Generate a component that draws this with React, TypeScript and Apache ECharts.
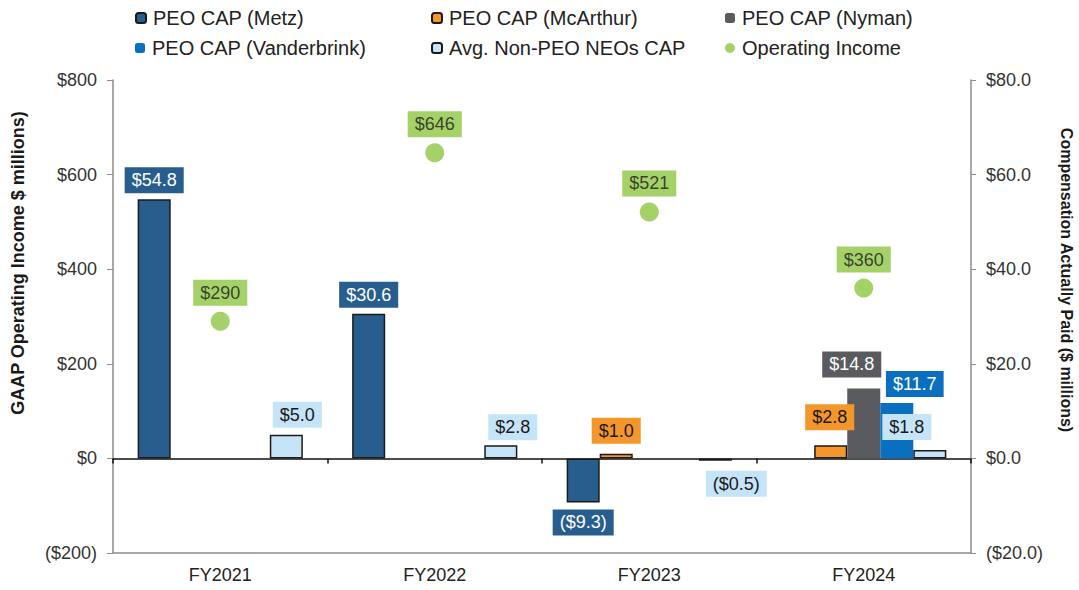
import React, { useEffect, useRef } from "react";
import * as echarts from "echarts";

const categories = ["FY2021", "FY2022", "FY2023", "FY2024"];
const metz: (number | null)[] = [54.8, 30.6, -9.3, null];
const mcarthur: (number | null)[] = [null, null, 1.0, 2.8];
const nyman: (number | null)[] = [null, null, null, 14.8];
const vanderbrink: (number | null)[] = [null, null, null, 11.7];
const nonPeo: (number | null)[] = [5.0, 2.8, -0.5, 1.8];
const operatingIncome = [290, 646, 521, 360];

const leftTicks = { min: -200, max: 800, interval: 200 };
const rightTicks = { min: -20, max: 80, interval: 20 };

const FONT = "'Liberation Sans', Arial, sans-serif";

// label nudges per series: [dx, distance]
const tweaks: Record<string, [number, number][]> = {
  metz: [[0, 6], [0, 6], [0, 7], [0, 6]],
  mcarthur: [[0, 6], [0, 6], [0, 10], [-1, 15]],
  nyman: [[0, 6], [0, 6], [0, 6], [-12, 11]],
  vanderbrink: [[0, 6], [0, 6], [0, 6], [18, 6]],
  nonPeo: [[11, 7], [12, 5], [21, 10], [-23, 10]],
};

const fmtBar = (v: number) =>
  v < 0 ? `($${(-v).toFixed(1)})` : `$${v.toFixed(1)}`;
const fmtLeft = (v: number) => (v < 0 ? `($${-v})` : `$${v}`);
const fmtRight = (v: number) =>
  v < 0 ? `($${(-v).toFixed(1)})` : `$${v.toFixed(1)}`;

export default function App() {
  const ref = useRef<HTMLDivElement>(null);
  useEffect(() => {
    document.body.style.margin = "0";
    if (!ref.current) return;
    const chart = echarts.init(ref.current, undefined, { renderer: "svg" });

    const barSeries = (
      name: string,
      key: string,
      values: (number | null)[],
      color: string,
      labelBg: string,
      labelColor: string,
      bordered: boolean
    ) => ({
      name,
      type: "bar",
      xAxisIndex: 0,
      yAxisIndex: 1,
      barGap: "0%",
      barCategoryGap: "23%",
      itemStyle: {
        color,
        borderColor: bordered ? "#1a1a1a" : color,
        borderWidth: bordered ? 1.5 : 0,
      },
      label: {
        show: true,
        fontFamily: FONT,
        fontSize: 18,
        color: labelColor,
        backgroundColor: labelBg,
        padding: [4, 7],
        formatter: (p: any) => fmtBar(p.value),
      },
      data: values.map((v, i) =>
        v == null
          ? null
          : {
              value: v,
              label: {
                position: v < 0 ? "bottom" : "top",
                distance: tweaks[key][i][1],
                offset: [tweaks[key][i][0], 0],
              },
            }
      ),
    });

    const legendBase = {
      padding: 0,
      itemWidth: 10,
      itemHeight: 10,
      selectedMode: false,
      textStyle: { fontFamily: FONT, fontSize: 20, color: "#222", padding: [0, 0, 0, 2] },
    };
    const legendPos: [string, number, number][] = [
      ["PEO CAP (Metz)", 135, 8],
      ["PEO CAP (McArthur)", 431, 8],
      ["PEO CAP (Nyman)", 725, 8],
      ["PEO CAP (Vanderbrink)", 135, 38],
      ["Avg. Non-PEO NEOs CAP", 431, 38],
      ["Operating Income", 725, 38],
    ];

    chart.setOption({
      animation: false,
      backgroundColor: "#ffffff",
      textStyle: { fontFamily: FONT },
      legend: legendPos.map(([n, l, t]) => ({
        ...legendBase,
        data: [n],
        left: l,
        top: t,
      })),
      grid: { left: 113, right: 108, top: 80, bottom: 37, containLabel: false },
      xAxis: [
        {
          type: "category",
          data: categories,
          axisLine: { onZero: true, lineStyle: { color: "#111", width: 1.5 } },
          axisTick: { show: true, length: 5, lineStyle: { color: "#111", width: 1.5 } },
          axisLabel: { show: false },
        },
        {
          type: "category",
          data: categories,
          position: "bottom",
          axisLine: { onZero: false, lineStyle: { color: "#8c8c8c", width: 1.5 } },
          axisTick: { show: false },
          axisLabel: { fontFamily: FONT, fontSize: 18, color: "#222", margin: 13 },
        },
      ],
      yAxis: [
        {
          type: "value",
          ...leftTicks,
          position: "left",
          axisLine: { show: true, lineStyle: { color: "#8c8c8c", width: 1.5 } },
          axisTick: { show: true, length: 6, lineStyle: { color: "#8c8c8c" } },
          splitLine: { show: false },
          axisLabel: {
            fontFamily: FONT,
            fontSize: 18,
            color: "#333",
            margin: 16,
            formatter: fmtLeft,
          },
        },
        {
          type: "value",
          ...rightTicks,
          position: "right",
          axisLine: { show: true, lineStyle: { color: "#8c8c8c", width: 1.5 } },
          axisTick: { show: true, length: 5, lineStyle: { color: "#8c8c8c" } },
          splitLine: { show: false },
          axisLabel: {
            fontFamily: FONT,
            fontSize: 18,
            color: "#333",
            margin: 15,
            formatter: fmtRight,
          },
        },
      ],
      graphic: [
        {
          type: "text",
          x: 18,
          y: 263,
          rotation: Math.PI / 2,
          style: {
            text: "GAAP Operating Income $ millions)",
            font: `bold 18px ${FONT}`,
            fill: "#1a1a1a",
            textAlign: "center",
            textVerticalAlign: "middle",
          },
        },
        {
          type: "text",
          x: 1066,
          y: 280,
          rotation: -Math.PI / 2,
          style: {
            text: "Compensation Actually Paid ($ millions)",
            font: `bold 16px ${FONT}`,
            fill: "#1a1a1a",
            textAlign: "center",
            textVerticalAlign: "middle",
          },
        },
      ],
      series: [
        barSeries("PEO CAP (Metz)", "metz", metz, "#285E8E", "#285E8E", "#ffffff", true),
        barSeries("PEO CAP (McArthur)", "mcarthur", mcarthur, "#F5962A", "#F5962A", "#1a1a1a", true),
        barSeries("PEO CAP (Nyman)", "nyman", nyman, "#5A5B5F", "#5A5B5F", "#ffffff", false),
        barSeries("PEO CAP (Vanderbrink)", "vanderbrink", vanderbrink, "#0B6FBF", "#0B6FBF", "#ffffff", false),
        barSeries("Avg. Non-PEO NEOs CAP", "nonPeo", nonPeo, "#C6E4F8", "#C6E4F8", "#1a1a1a", true),
        {
          name: "Operating Income",
          type: "scatter",
          xAxisIndex: 0,
          yAxisIndex: 0,
          symbol: "circle",
          symbolSize: 19,
          z: 5,
          itemStyle: { color: "#8DC642" },
          label: {
            show: true,
            position: "top",
            distance: 6,
            fontFamily: FONT,
            fontSize: 18,
            color: "#1a1a1a",
            backgroundColor: "#8DC642",
            padding: [4, 7],
            formatter: (p: any) => `$${p.value}`,
          },
          data: operatingIncome,
        },
      ],
    });
    return () => chart.dispose();
  }, []);
  return (
    <div
      ref={ref}
      style={{ width: 1079, height: 590, position: "fixed", left: 0, top: 0 }}
    />
  );
}
